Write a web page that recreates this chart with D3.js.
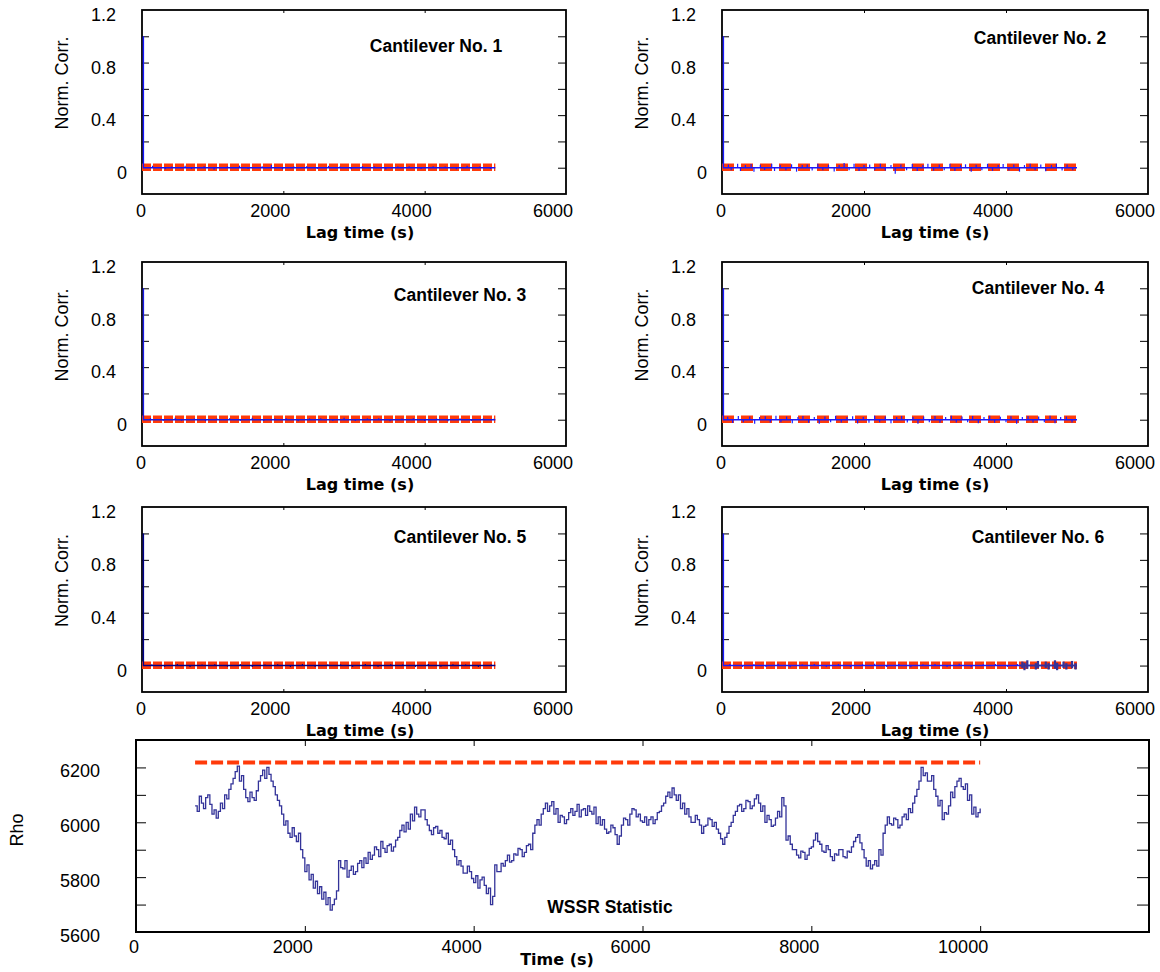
<!DOCTYPE html>
<html>
<head>
<meta charset="utf-8">
<script src="https://cdn.jsdelivr.net/npm/d3@7"></script>
<style>
  body { margin: 0; background: #fff; }
  svg { display: block; font-family: "Liberation Sans", Arial, sans-serif; }
</style>
</head>
<body>
<svg id="chart" width="1160" height="972"></svg>
<script>
// Autocorrelation panels (lag in s, normalised correlation)
const cantileverNames = ['Cantilever No. 1', 'Cantilever No. 2', 'Cantilever No. 3',
                         'Cantilever No. 4', 'Cantilever No. 5', 'Cantilever No. 6'];
const lagTickLabels = [0, 2000, 4000, 6000];
const lagMinorTicks = [2000, 4000];
const corrTickLabels = [1.2, 0.8, 0.4, 0];
const corrMinorTicks = [0, 0.2, 0.4, 0.6, 0.8, 1.0];

// blue curve: 1 at zero lag, then fluctuates around 0
const corrBaseLag = [20, 20, 5000];
const corrBaseVal = [1, 0, 0];
// red significance band
const confLag = [0, 5000];
const confVal = [0.003, 0.003];

// [lag, value] fluctuations
const spikes1 = [[150,0.015],[330,-0.012],[420,0.01],[610,0.014],[700,-0.01],[880,0.012],[1020,-0.015],[1210,0.01],[1380,0.016],[1500,-0.01],[1700,0.012],[1830,0.02],[1990,-0.012],[2150,0.01],[2330,0.012],[2480,-0.01],[2640,0.014],[2800,0.01],[2960,-0.012],[3120,0.012],[3290,0.01],[3450,-0.014],[3620,0.01],[3780,0.012],[3950,-0.01],[4120,0.012],[4290,0.01],[4450,-0.012],[4600,0.014],[4780,0.01],[4930,-0.01]];
const spikes2 = [[90,0.025],[130,-0.02],[220,0.03],[260,-0.025],[330,0.02],[410,0.028],[450,-0.03],[540,0.022],[600,-0.018],[700,0.03],[740,-0.025],[820,0.02],[900,-0.02],[980,0.026],[1050,-0.03],[1130,0.02],[1200,0.024],[1270,-0.022],[1350,0.03],[1420,-0.02],[1500,0.022],[1580,-0.028],[1650,0.02],[1720,0.035],[1790,-0.02],[1860,0.03],[1930,-0.025],[2000,0.02],[2080,0.025],[2150,-0.02],[2230,0.03],[2300,-0.022],[2380,0.02],[2440,-0.045],[2520,0.025],[2600,-0.02],[2680,0.028],[2750,-0.025],[2830,0.02],[2900,0.03],[2980,-0.022],[3060,0.025],[3130,-0.02],[3210,0.03],[3280,-0.025],[3360,0.02],[3430,0.026],[3510,-0.03],[3580,0.022],[3660,-0.02],[3740,0.03],[3810,-0.024],[3890,0.02],[3960,0.028],[4040,-0.022],[4110,0.025],[4190,-0.03],[4260,0.02],[4340,0.03],[4410,-0.02],[4490,0.024],[4560,-0.026],[4640,0.02],[4710,0.03],[4790,-0.022],[4860,0.025],[4940,-0.02]];
const spikes3 = [[120,0.012],[300,-0.01],[470,0.014],[560,-0.008],[740,0.01],[900,-0.012],[1060,0.01],[1240,0.012],[1390,-0.01],[1560,0.014],[1720,-0.01],[1880,0.01],[2040,0.012],[2210,-0.012],[2370,0.01],[2530,0.012],[2700,-0.01],[2860,0.014],[3020,-0.01],[3190,0.01],[3350,0.012],[3510,-0.012],[3680,0.01],[3840,0.012],[4000,-0.01],[4170,0.01],[4330,-0.012],[4500,0.012],[4660,-0.01],[4830,0.01],[4980,0.008]];
const spikes4 = [[80,0.022],[150,-0.025],[230,0.028],[300,-0.02],[390,0.025],[460,-0.03],[530,0.02],[610,0.026],[680,-0.022],[760,0.03],[830,-0.02],[910,0.024],[990,-0.026],[1070,0.02],[1140,0.028],[1220,-0.024],[1300,0.02],[1370,-0.03],[1450,0.025],[1530,-0.02],[1600,0.03],[1680,-0.022],[1760,0.02],[1840,0.026],[1910,-0.028],[1990,0.02],[2070,-0.024],[2150,0.03],[2220,-0.02],[2300,0.024],[2380,-0.026],[2460,0.02],[2530,0.028],[2610,-0.022],[2690,0.02],[2760,-0.03],[2840,0.025],[2920,-0.02],[3000,0.028],[3070,-0.024],[3150,0.02],[3230,0.03],[3300,-0.022],[3380,0.024],[3460,-0.02],[3530,0.028],[3610,-0.026],[3690,0.02],[3770,0.03],[3840,-0.024],[3920,0.022],[4000,-0.02],[4070,0.026],[4150,-0.03],[4230,0.02],[4310,0.028],[4380,-0.022],[4460,0.024],[4540,-0.02],[4620,0.03],[4690,-0.026],[4770,0.02],[4850,0.024],[4930,-0.022]];
const spikes5 = [[140,0.01],[320,-0.008],[500,0.012],[680,-0.01],[850,0.008],[1030,0.01],[1210,-0.008],[1390,0.012],[1560,-0.01],[1740,0.008],[1920,0.01],[2100,-0.01],[2270,0.012],[2450,-0.008],[2630,0.01],[2810,0.008],[2980,-0.01],[3160,0.012],[3340,-0.008],[3520,0.01],[3690,0.008],[3870,-0.01],[4050,0.012],[4230,-0.008],[4400,0.01],[4580,0.008],[4760,-0.01],[4940,0.008]];
const spikes6 = [[110,0.012],[290,-0.01],[450,0.012],[620,-0.01],[790,0.014],[960,-0.012],[1130,0.01],[1300,0.012],[1470,-0.01],[1640,0.012],[1810,-0.012],[1980,0.01],[2150,0.014],[2320,-0.01],[2490,0.012],[2660,-0.012],[2830,0.01],[3000,0.012],[3170,-0.01],[3340,0.014],[3510,-0.012],[3680,0.01],[3850,0.012],[4020,-0.01],[4160,0.012]];
const spikes6Dark = [[4230,0.03],[4260,-0.035],[4300,0.04],[4420,-0.03],[4450,0.035],[4560,0.03],[4600,-0.03],[4690,0.04],[4720,-0.035],[4810,0.03],[4850,-0.03],[4930,0.035],[4980,-0.03]];

// WSSR statistic (time in s, Rho), sampled every 25 s from 700 s
const wssrStart = 700;
const wssrStep = 25;
const wssrValues = [
  6060, 6040, 6095, 6070, 6050, 6090, 6100, 6065, 6030, 6045, 6015, 6040, 6070, 6050, 6100, 6085, 6120, 6140, 6160, 6185,
  6205, 6150, 6170, 6120, 6090, 6075, 6110, 6090, 6080, 6115, 6150, 6170, 6190, 6160, 6200, 6175, 6150, 6130, 6100, 6080,
  6060, 6030, 5990, 6005, 5960, 5945, 5980, 5950, 5930, 5960, 5900, 5870, 5820, 5845, 5790, 5810, 5760, 5785, 5740, 5765,
  5720, 5745, 5700, 5725, 5680, 5700, 5720, 5750, 5860, 5835, 5830, 5860, 5800, 5825, 5840, 5810, 5820, 5850, 5860, 5835,
  5870, 5850, 5890, 5865, 5880, 5910, 5900, 5875, 5930, 5905, 5890, 5915, 5920, 5895, 5910, 5935, 5945, 5970, 5990, 5965,
  6000, 5975, 6030, 6005, 6055, 6030, 6020, 6045, 6045, 6010, 5990, 5970, 5955, 5980, 5985, 5960, 5970, 5945, 5940, 5960,
  5920, 5935, 5900, 5875, 5845, 5860, 5840, 5815, 5815, 5840, 5820, 5795, 5780, 5805, 5760, 5790, 5800, 5770, 5740, 5760,
  5700, 5730, 5845, 5820, 5820, 5850, 5840, 5860, 5880, 5855, 5860, 5885, 5880, 5905, 5900, 5875, 5890, 5915, 5920, 5900,
  5960, 5990, 6010, 5990, 6030, 6050, 6070, 6040, 6060, 6075, 6030, 6050, 6000, 6025, 6020, 5995, 6010, 6035, 6050, 6025,
  6040, 6065, 6020, 6045, 6050, 6025, 6060, 6040, 6030, 6055, 5995, 6020, 5990, 6010, 5975, 5960, 5965, 5990, 5980, 5955,
  5920, 5950, 5990, 6015, 6010, 5990, 6030, 6050, 6045, 6020, 6030, 6005, 6000, 6020, 5990, 6010, 6020, 5995, 6010, 6035,
  6040, 6060, 6070, 6095, 6110, 6090, 6125, 6100, 6080, 6100, 6050, 6070, 6030, 6050, 6020, 6000, 6000, 6025, 6010, 5990,
  5960, 5985, 5990, 6015, 6010, 5985, 6000, 5975, 5960, 5940, 5920, 5945, 5960, 5985, 6000, 6025, 6040, 6060, 6065, 6040,
  6050, 6080, 6075, 6050, 6060, 6085, 6100, 6070, 6040, 6060, 6000, 6025, 6010, 5985, 5990, 6015, 6040, 6020, 6090, 6060,
  5935, 5950, 5920, 5900, 5900, 5880, 5870, 5895, 5890, 5865, 5880, 5905, 5910, 5935, 5960, 5930, 5920, 5895, 5890, 5915,
  5900, 5875, 5860, 5885, 5880, 5900, 5900, 5875, 5870, 5895, 5890, 5910, 5930, 5945, 5955, 5925, 5900, 5870, 5840, 5860,
  5830, 5845, 5860, 5840, 5900, 5880, 5960, 5990, 6020, 5995, 5990, 6015, 6010, 5980, 5990, 6020, 6030, 6010, 6050, 6035,
  6070, 6095, 6120, 6150, 6200, 6170, 6180, 6150, 6150, 6170, 6120, 6095, 6060, 6080, 6010, 6035, 6030, 6060, 6110, 6090,
  6130, 6150, 6160, 6130, 6120, 6140, 6080, 6100, 6030, 6055, 6020, 6035, 6050
];
const wssrLimitTime = [700, 10000];
const wssrLimitVal = [6218, 6218];
const timeTickLabels = [0, 2000, 4000, 6000, 8000, 10000];
const timeMinorTicks = [2000, 4000, 6000, 8000, 10000];
const rhoTickLabels = [5600, 5800, 6000, 6200];
const rhoMinorTicks = [5700, 5800, 5900, 6000, 6100, 6200];

const svg = d3.select('#chart');
svg.append('rect').attr('width', 1160).attr('height', 972).attr('fill', '#fff');

// panel layout
const panels = [
  { spikes: spikes1, color: '#1414ff', dash: '9,2',  x0: 142, x1: 566,  y0: 10,  y1: 194, lx: 436,  ly: 52 },
  { spikes: spikes2, color: '#1a1aff', dash: '12,7', x0: 722, x1: 1148, y0: 10,  y1: 194, lx: 1040, ly: 44 },
  { spikes: spikes3, color: '#1a1ae6', dash: '9,2',  x0: 142, x1: 566,  y0: 262, y1: 446, lx: 460,  ly: 301 },
  { spikes: spikes4, color: '#1a1aff', dash: '12,7', x0: 722, x1: 1148, y0: 262, y1: 446, lx: 1038, ly: 294 },
  { spikes: spikes5, color: '#00008b', dash: '9,2',  x0: 142, x1: 566,  y0: 507, y1: 692, lx: 460,  ly: 543 },
  { spikes: spikes6, color: '#1a1aff', dash: '9,2',  x0: 722, x1: 1148, y0: 507, y1: 692, lx: 1038, ly: 543 }
];

const red = '#ff3a0a';

panels.forEach((p, i) => {
  const x = d3.scaleLinear().domain([0, 6000]).range([p.x0, p.x1]);
  const y = d3.scaleLinear().domain([-0.2, 1.2]).range([p.y1, p.y0]);
  const g = svg.append('g');

  // ticks via d3 axes, inward, no labels
  const tick = (axis, tx, ty) => {
    const a = g.append('g').attr('transform', `translate(${tx},${ty})`).call(axis);
    a.select('.domain').remove();
    a.selectAll('line').attr('stroke', '#000').attr('stroke-width', 1);
  };
  tick(d3.axisLeft(y).tickValues(corrMinorTicks).tickSize(-7).tickFormat(''), p.x0, 0);
  tick(d3.axisRight(y).tickValues(corrMinorTicks).tickSize(-8).tickFormat(''), p.x1, 0);
  tick(d3.axisBottom(x).tickValues(lagMinorTicks).tickSize(-3).tickFormat(''), 0, p.y1);
  tick(d3.axisTop(x).tickValues(lagMinorTicks).tickSize(-3).tickFormat(''), 0, p.y0);

  // frame
  g.append('rect')
    .attr('x', p.x0).attr('y', p.y0)
    .attr('width', p.x1 - p.x0).attr('height', p.y1 - p.y0)
    .attr('fill', 'none').attr('stroke', '#000').attr('stroke-width', 1.8);

  // red band
  g.append('path')
    .datum(confLag.map((l, k) => [l, confVal[k]]))
    .attr('d', d3.line().x(d => x(d[0])).y(d => y(d[1])))
    .attr('fill', 'none').attr('stroke', red).attr('stroke-width', 7.5)
    .attr('stroke-dasharray', p.dash);

  // blue correlation
  g.append('path')
    .datum(corrBaseLag.map((l, k) => [l, corrBaseVal[k]]))
    .attr('d', d3.line().x(d => x(d[0])).y(d => y(d[1])))
    .attr('fill', 'none').attr('stroke', p.color).attr('stroke-width', 1.4);
  g.selectAll('.spk').data(p.spikes).enter().append('line')
    .attr('x1', d => x(d[0])).attr('x2', d => x(d[0]))
    .attr('y1', y(0)).attr('y2', d => y(d[1]))
    .attr('stroke', p.color).attr('stroke-width', 1.2);
  if (i === 5) {
    g.append('path')
      .datum([[4200, 0], [5000, 0]])
      .attr('d', d3.line().x(d => x(d[0])).y(d => y(d[1])))
      .attr('stroke', '#333399').attr('stroke-width', 1.6);
    g.selectAll('.dk').data(spikes6Dark).enter().append('line')
      .attr('x1', d => x(d[0])).attr('x2', d => x(d[0]))
      .attr('y1', d => y(-d[1] * 0.6)).attr('y2', d => y(d[1]))
      .attr('stroke', '#333399').attr('stroke-width', 2.2);
  }

  // tick labels
  g.selectAll('.yl').data(corrTickLabels).enter().append('text')
    .attr('x', d => d === 0 ? p.x0 - 15 : p.x0 - 26)
    .attr('y', d => y(d) + 11)
    .attr('text-anchor', 'end').attr('font-size', 18)
    .text(d => d);
  g.selectAll('.xl').data(lagTickLabels).enter().append('text')
    .attr('x', d => x(d) + (d === 0 ? 4 : 7))
    .attr('y', p.y1 + 23)
    .attr('text-anchor', 'end').attr('font-size', 18)
    .text(d => d);

  // axis titles
  g.append('text')
    .attr('transform', `translate(${p.x0 - 74},${(p.y0 + p.y1) / 2 - 19}) rotate(-90)`)
    .attr('text-anchor', 'middle').attr('font-size', 18)
    .text('Norm. Corr.');
  g.append('text')
    .attr('x', (p.x0 + p.x1) / 2 + (p.x0 < 300 ? 6 : 0))
    .attr('y', p.y1 + 44)
    .attr('text-anchor', 'middle')
    .attr('font-family', '"DejaVu Sans", sans-serif')
    .attr('font-weight', 'bold').attr('font-size', 16)
    .text('Lag time (s)');
  g.append('text')
    .attr('x', p.lx).attr('y', p.ly)
    .attr('text-anchor', 'middle')
    .attr('font-weight', 'bold').attr('font-size', 17.5)
    .text(cantileverNames[i]);
});

// WSSR panel
const bx = d3.scaleLinear().domain([0, 12000]).range([136, 1149]);
const by = d3.scaleLinear().domain([5600, 6300]).range([932, 740]);
const bg = svg.append('g');

const btick = (axis, tx, ty) => {
  const a = bg.append('g').attr('transform', `translate(${tx},${ty})`).call(axis);
  a.select('.domain').remove();
  a.selectAll('line').attr('stroke', '#000').attr('stroke-width', 1);
};
btick(d3.axisLeft(by).tickValues(rhoMinorTicks).tickSize(-10).tickFormat(''), 136, 0);
btick(d3.axisRight(by).tickValues(rhoMinorTicks).tickSize(-12).tickFormat(''), 1149, 0);
btick(d3.axisBottom(bx).tickValues(timeMinorTicks).tickSize(-6).tickFormat(''), 0, 932);
btick(d3.axisTop(bx).tickValues(timeMinorTicks).tickSize(-6).tickFormat(''), 0, 740);

bg.append('path')
  .datum(wssrLimitTime.map((t, k) => [t, wssrLimitVal[k]]))
  .attr('d', d3.line().x(d => bx(d[0])).y(d => by(d[1])))
  .attr('fill', 'none').attr('stroke', red).attr('stroke-width', 4)
  .attr('stroke-dasharray', '12,4');

bg.append('path')
  .datum(wssrValues.map((v, k) => [wssrStart + k * wssrStep, v]))
  .attr('d', d3.line().curve(d3.curveStepAfter).x(d => bx(d[0])).y(d => by(d[1])))
  .attr('fill', 'none').attr('stroke', '#333399').attr('stroke-width', 1.3);

bg.append('rect')
  .attr('x', 136).attr('y', 740).attr('width', 1149 - 136).attr('height', 932 - 740)
  .attr('fill', 'none').attr('stroke', '#000').attr('stroke-width', 2);

bg.selectAll('.yl').data(rhoTickLabels).enter().append('text')
  .attr('x', 100).attr('y', d => by(d) + 10)
  .attr('text-anchor', 'end').attr('font-size', 18)
  .text(d => d);
bg.selectAll('.xl').data(timeTickLabels).enter().append('text')
  .attr('x', d => bx(d) + (d === 0 ? 3 : 8)).attr('y', 953)
  .attr('text-anchor', 'end').attr('font-size', 18)
  .text(d => d);

bg.append('text')
  .attr('transform', `translate(23,830) rotate(-90)`)
  .attr('text-anchor', 'middle').attr('font-size', 18)
  .text('Rho');
bg.append('text')
  .attr('x', 557).attr('y', 965)
  .attr('text-anchor', 'middle')
  .attr('font-family', '"DejaVu Sans", sans-serif')
  .attr('font-weight', 'bold').attr('font-size', 16)
  .text('Time (s)');
bg.append('text')
  .attr('x', 610).attr('y', 913)
  .attr('text-anchor', 'middle')
  .attr('font-weight', 'bold').attr('font-size', 17.5)
  .text('WSSR Statistic');
</script>
</body>
</html>
